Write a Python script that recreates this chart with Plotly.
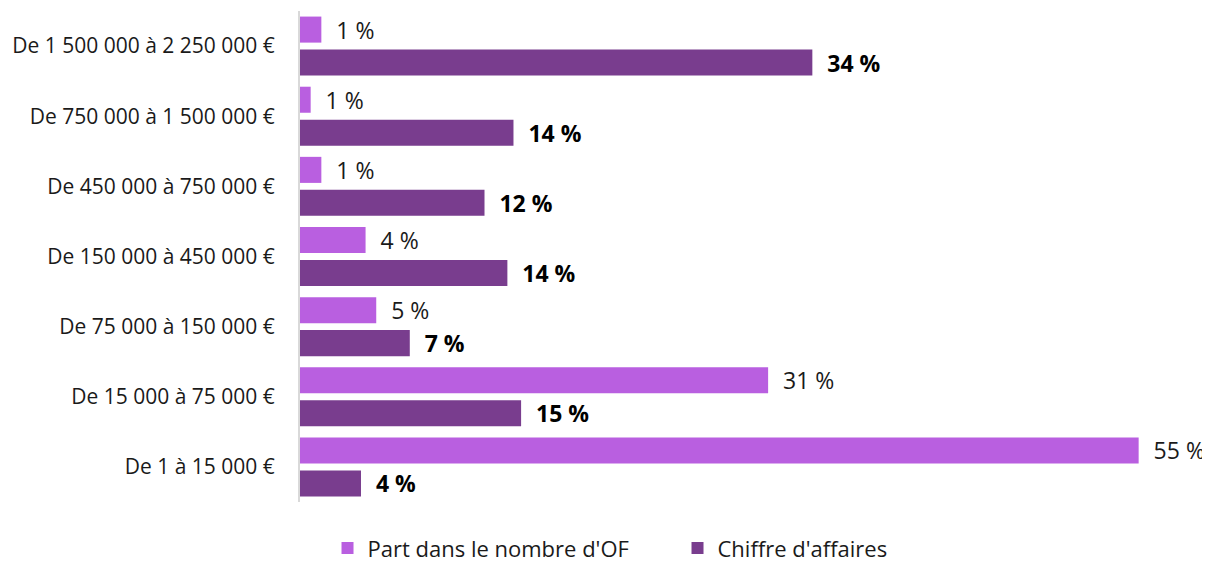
import plotly.graph_objects as go

tranches = ['De 1 500 000 à 2 250 000 €', 'De 750 000 à 1 500 000 €', 'De 450 000 à 750 000 €',
            'De 150 000 à 450 000 €', 'De 75 000 à 150 000 €', 'De 15 000 à 75 000 €',
            'De 1 à 15 000 €']
part_of = [1.4, 0.7, 1.4, 4.3, 5.0, 30.7, 55.0]
part_of_lbl = ['1 %', '1 %', '1 %', '4 %', '5 %', '31 %', '55 %']
chiffre = [33.6, 14.0, 12.1, 13.6, 7.2, 14.5, 4.0]
chiffre_lbl = ['34 %', '14 %', '12 %', '14 %', '7 %', '15 %', '4 %']

pad = '\u00a0' * 2

fig = go.Figure()
fig.add_trace(go.Bar(y=tranches, x=part_of, orientation='h', name="Part dans le nombre d'OF",
                     marker=dict(color='#B95FE0', line=dict(width=0)),
                     text=[pad + t for t in part_of_lbl], textposition='outside',
                     constraintext='none',
                     textfont=dict(size=23, color='#1a1a1a'), cliponaxis=False))
fig.add_trace(go.Bar(y=tranches, x=chiffre, orientation='h', name="Chiffre d'affaires",
                     marker=dict(color='#793D8E', line=dict(width=0)),
                     text=[pad + '<b>' + t + '</b>' for t in chiffre_lbl], textposition='outside',
                     constraintext='none',
                     textfont=dict(size=23, color='#000000'), cliponaxis=False))

# page body has an 8px margin, so the figure is smaller and margins shifted
fig.update_layout(
    width=1202, height=556,
    margin=dict(l=292, r=50, t=3, b=62, autoexpand=False),
    barmode='group', bargap=0.06, bargroupgap=0.21,
    plot_bgcolor='white', paper_bgcolor='white',
    font=dict(family='Open Sans', color='#1a1a1a'),
    legend=dict(orientation='h', xref='container', x=0.557, xanchor='center', y=-0.094,
                yanchor='middle', font=dict(size=22), traceorder='normal',
                entrywidth=305, entrywidthmode='pixels'),
    xaxis=dict(range=[0, 56.4], visible=False),
    yaxis=dict(autorange='reversed', showline=True, linecolor='#d9d9d9', linewidth=2,
               ticks='', ticklabelstandoff=19, tickfont=dict(size=21, color='#1a1a1a'),
               showgrid=False, automargin=False),
)

fig.write_html('out.html')
